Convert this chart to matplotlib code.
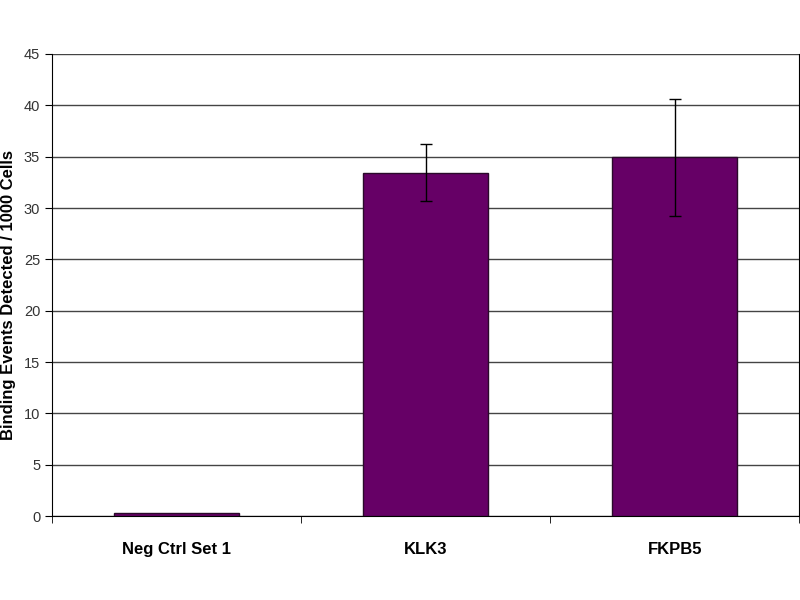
import matplotlib
matplotlib.use("Agg")
import matplotlib.pyplot as plt
import numpy as np

categories = ["Neg Ctrl Set 1", "KLK3", "FKPB5"]
values = [0.3, 33.45, 34.95]
errors = [0.0, 2.75, 5.7]
yticks = [0, 5, 10, 15, 20, 25, 30, 35, 40, 45]

plt.rcParams['font.family'] = ['Liberation Sans', 'DejaVu Sans']

fig = plt.figure(figsize=(8, 6), dpi=100)
ax = fig.add_axes([0.065, 0.14, 0.934, 0.77])

x = np.arange(len(categories))
ax.bar(x, values, width=0.5, color="#660066", edgecolor="#2a0a2a", linewidth=1, zorder=3)
ax.errorbar(x[1:], values[1:], yerr=errors[1:], fmt='none', ecolor='black',
            elinewidth=1, capsize=4, capthick=1, zorder=4)

ax.set_xlim(-0.5, len(categories) - 0.5)
ax.set_ylim(0, 45)
ax.set_yticks(yticks)
ax.set_yticklabels([str(t) for t in yticks], fontsize=10.5, color="#333333")
ax.yaxis.grid(True, color="#444444", linewidth=1)
ax.set_axisbelow(True)

ax.set_xticks(x)
ax.set_xticklabels(categories, fontsize=12, fontweight='bold')
ax.tick_params(axis='x', length=0, pad=19)
ax.set_xticks(np.arange(len(categories) + 1) - 0.5, minor=True)
ax.tick_params(axis='x', which='minor', length=5, direction='out', color='black')
ax.tick_params(axis='y', length=5, direction='out', color='black')

ax.spines['top'].set_visible(False)
ax.spines['right'].set_color('black')
ax.spines['left'].set_color('black')
ax.spines['bottom'].set_color('black')

ax.set_ylabel("Binding Events Detected / 1000 Cells", fontsize=12, fontweight='bold')
ax.yaxis.set_label_coords(-0.048, 0.478)

fig.savefig("out.png", dpi=100)
